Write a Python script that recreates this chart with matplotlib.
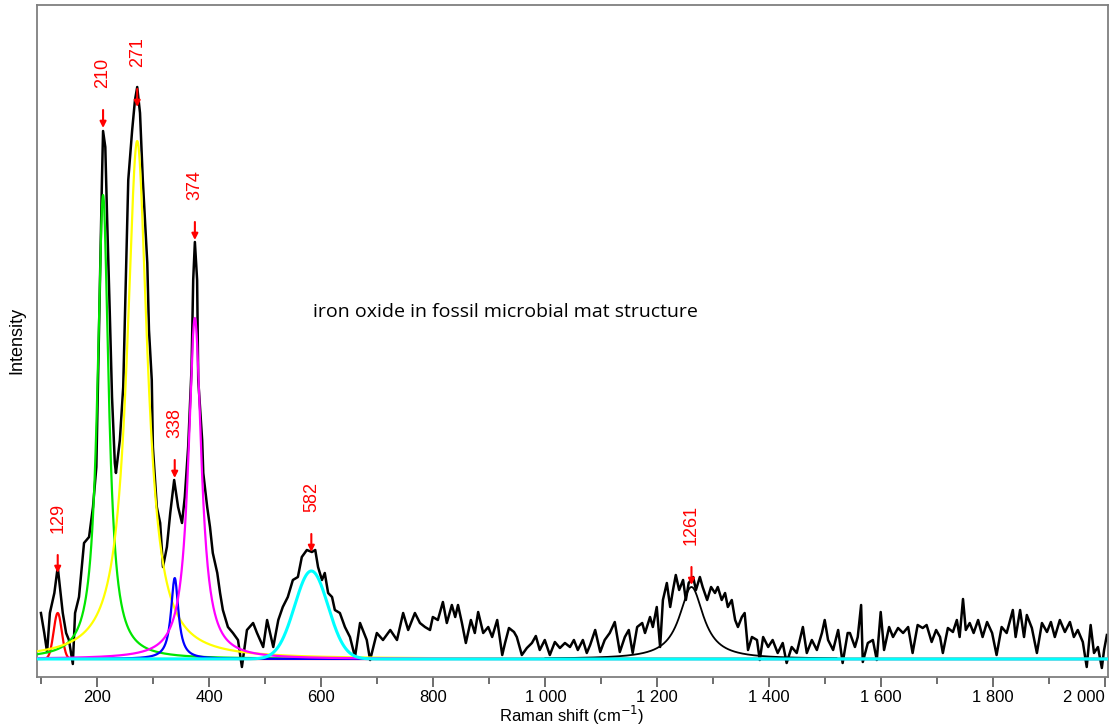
import numpy as np
import matplotlib
matplotlib.use("Agg")
import matplotlib.pyplot as plt
from matplotlib.ticker import FuncFormatter, MultipleLocator

# measured spectrum (Raman shift in cm-1, intensity in arbitrary units above baseline)
shift = [99, 105, 110, 115, 123, 129, 138, 144, 149, 156, 160, 167, 176, 185, 192, 198,
         201, 208, 210, 214, 217, 222, 226, 231, 233, 240, 246, 255, 262, 267, 271, 276,
         281, 289, 292, 297, 299, 306, 312, 317, 324, 330, 337, 344, 351, 356, 362, 368,
         371, 374, 378, 380, 387, 389, 396, 401, 406, 414, 419, 424, 433, 442, 451, 458,
         467, 478, 485, 496, 503, 514, 523, 531, 540, 549, 558, 565, 574, 583, 589, 594,
         601, 606, 612, 619, 624, 633, 642, 651, 660, 669, 681, 687, 699, 710, 723, 735,
         746, 755, 767, 776, 785, 794, 799, 808, 817, 824, 833, 839, 844, 851, 858, 867,
         874, 880, 889, 898, 905, 914, 923, 928, 935, 944, 949, 958, 967, 976, 983, 990,
         999, 1008, 1017, 1026, 1035, 1044, 1051, 1058, 1067, 1074, 1080, 1089, 1098, 1106,
         1115, 1124, 1133, 1142, 1149, 1156, 1164, 1173, 1178, 1187, 1192, 1199, 1205, 1210,
         1217, 1223, 1228, 1233, 1239, 1246, 1251, 1256, 1264, 1269, 1276, 1281, 1289, 1296,
         1303, 1308, 1315, 1321, 1326, 1333, 1339, 1344, 1351, 1356, 1362, 1369, 1378, 1383,
         1389, 1398, 1406, 1415, 1424, 1431, 1440, 1449, 1460, 1467, 1476, 1485, 1494, 1499,
         1505, 1514, 1523, 1531, 1540, 1544, 1553, 1558, 1564, 1567, 1576, 1585, 1592, 1599,
         1605, 1614, 1621, 1630, 1639, 1648, 1656, 1665, 1674, 1681, 1690, 1698, 1705, 1710,
         1719, 1728, 1735, 1740, 1746, 1751, 1758, 1765, 1773, 1781, 1789, 1798, 1806, 1815,
         1824, 1835, 1840, 1848, 1855, 1860, 1869, 1878, 1887, 1896, 1903, 1910, 1919, 1928,
         1937, 1944, 1951, 1960, 1967, 1974, 1980, 1987, 1994, 1998, 2003]
intensity = [46, 26, 7, 46, 66, 92, 46, 26, 19, -5, 46, 62, 116, 122, 152, 192,
             279, 479, 528, 512, 446, 346, 262, 196, 186, 219, 272, 479, 529, 559, 572, 546,
             479, 396, 329, 279, 212, 152, 136, 92, 112, 146, 179, 152, 136, 162, 212, 290,
             379, 417, 379, 279, 219, 186, 152, 132, 106, 86, 66, 49, 32, 26, 19, -8,
             29, 36, 26, 12, 39, 12, 39, 52, 62, 79, 82, 102, 109, 107, 109, 92,
             79, 86, 66, 62, 49, 46, 32, 22, 2, 36, 19, -1, 26, 19, 29, 19,
             46, 29, 46, 36, 32, 29, 42, 39, 57, 36, 54, 42, 54, 36, 16, 39,
             26, 47, 26, 32, 22, 39, 4, 16, 31, 27, 22, 4, 11, 16, 23, 9,
             19, 4, 17, 11, 16, 12, 19, 9, 19, 6, 14, 29, 7, 19,
             26, 37, 7, 22, 29, 6, 32, 36, 26, 42, 32, 52, 12, 59,
             76, 52, 69, 84, 69, 79, 59, 76, 82, 69, 82, 72, 59, 72,
             66, 72, 59, 66, 52, 59, 39, 32, 42, 46, 9, 22, 19, -1,
             22, 12, 19, 6, 16, -4, 12, 6, 32, 6, 19, 9, 26, 39,
             19, 9, 29, -4, 26, 26, 12, 22, 54, -3, 16, 19, -1, 47,
             9, 32, 22, 31, 26, 32, 6, 34, 31, 34, 17, 29, 22, 6,
             31, 27, 39, 22, 60, 29, 36, 26, 39, 22, 37, 26, 4, 32,
             26, 49, 22, 49, 22, 44, 31, 6, 36, 27, 37, 22, 39, 27,
             37, 22, 29, 17, -8, 34, 6, 12, -9, 9, 24]

# fitted bands: centre, height, FWHM, profile
band_center = [129, 210, 271, 338, 374, 582]
band_height = [46, 464, 518, 81, 341, 88]
band_fwhm = [17, 24, 44, 16, 28, 70]
band_shape = ['gauss', 'lorentz', 'lorentz', 'lorentz', 'lorentz', 'gauss']
band_color = ['#ff0000', '#00e600', '#ffff00', '#0000ff', '#ff00ff', '#00ffff']

# broad band fitted separately (black)
broad_center = 1261
broad_height = 72
broad_fwhm = 52

# labelled peaks and where the arrows point
label_pos = [129, 210, 271, 338, 374, 582, 1261]
label_tip = [86, 531, 552, 181, 419, 107, 74]


def profile(x, c, h, w, kind):
    if kind == 'gauss':
        return h * np.exp(-4 * np.log(2) * ((x - c) / w) ** 2)
    return h / (1 + (2 * (x - c) / w) ** 2)


fig = plt.figure(figsize=(11.17, 7.28), dpi=100)
ax = fig.add_axes([37 / 1117, 51 / 728, 1071 / 1117, 672 / 728])

ax.plot(shift, intensity, color='black', lw=1.8, zorder=2)

xx = np.linspace(92, 2005, 3000)
for c, h, w, k, col in zip(band_center, band_height, band_fwhm, band_shape, band_color):
    if col == '#00ffff':
        continue
    ax.plot(xx, profile(xx, c, h, w, k), color=col, lw=1.6, zorder=3)

xb = np.linspace(1000, 1520, 800)
ax.plot(xb, profile(xb, broad_center, broad_height, broad_fwhm, 'lorentz'),
        color='black', lw=1.3, zorder=3)

# cyan band on top (also covers the baseline)
i = band_color.index('#00ffff')
ax.plot(xx, profile(xx, band_center[i], band_height[i], band_fwhm[i], band_shape[i]),
        color='#00ffff', lw=2.2, zorder=4)

for p, t in zip(label_pos, label_tip):
    ax.annotate('', xy=(p, t), xytext=(p, t + 18),
                arrowprops=dict(arrowstyle='-|>', color='red', lw=1.5,
                                shrinkA=0, shrinkB=0, mutation_scale=9),
                zorder=5)
    ax.text(p, t + 40, str(p), rotation=90, color='red', ha='center', va='bottom',
            fontsize=13, family='Liberation Sans', zorder=5)

ax.text(585, 347, 'iron oxide in fossil microbial mat structure', fontsize=14,
        family='Open Sans', ha='left', va='center')

ax.set_xlim(92, 2005)
ax.set_ylim(-18, 654)
ax.set_yticks([])
ax.xaxis.set_major_locator(MultipleLocator(200))
ax.xaxis.set_minor_locator(MultipleLocator(100))
ax.xaxis.set_major_formatter(FuncFormatter(lambda v, p: f"{int(v):,}".replace(',', ' ')))
ax.tick_params(axis='x', which='major', direction='out', length=7, width=1.2,
               color='#555555', labelsize=12, pad=2)
ax.tick_params(axis='x', which='minor', direction='out', length=5, width=1.2,
               color='#555555')
fig.canvas.draw()
labels = ax.get_xticklabels()
for lab in labels:
    lab.set_family('Liberation Sans')
for lab in labels:
    if lab.get_text() == '2 000':
        lab.set_horizontalalignment('right')
for s in ax.spines.values():
    s.set_color('#7f7f7f')
    s.set_linewidth(1.3)

fig.text(572 / 1117, 1 / 728, 'Raman shift (cm$^{-1}$)', fontsize=12,
         family='Liberation Sans', ha='center', va='bottom')
fig.text(17 / 1117, 1 - 340 / 728, 'Intensity', fontsize=13, family='Liberation Sans',
         rotation=90, ha='center', va='center')

fig.savefig('out.png', dpi=100)
